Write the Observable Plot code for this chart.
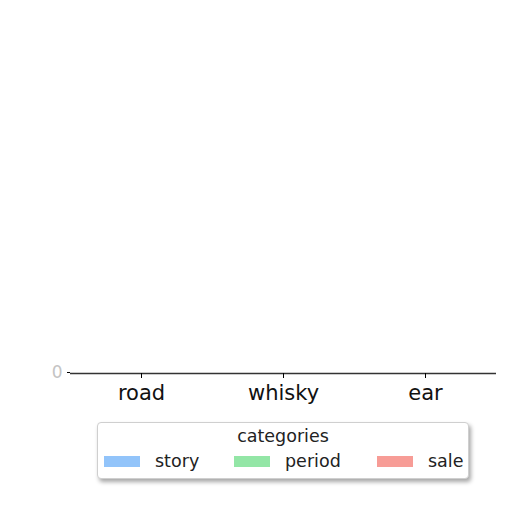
<!DOCTYPE html>
<html>
<head>
<meta charset="utf-8">
<script src="https://cdn.jsdelivr.net/npm/d3@7"></script>
<script src="https://cdn.jsdelivr.net/npm/@observablehq/plot@0.6"></script>
<style>
  body { margin: 0; background: #fff; font-family: "DejaVu Sans", sans-serif; }
  #wrap { position: relative; width: 512px; height: 512px; overflow: hidden; }
  #chart { position: absolute; left: 0; top: 0; }
  #legend {
    position: absolute; left: 97px; top: 422px; width: 372px; height: 57px;
    border: 1px solid #cfcfcf; border-radius: 4px; background: #fff;
    box-shadow: 2px 3px 4px rgba(0,0,0,0.35); box-sizing: border-box;
  }
  #legend .title { position: absolute; left: 0; right: 0; top: 3px; text-align: center; font-size: 17.5px; color: #222; }
  #legend .item { position: absolute; top: 28px; display: flex; align-items: center; font-size: 17.5px; color: #222; }
  #legend .sw { width: 36px; height: 11px; margin-right: 15px; }
</style>
</head>
<body>
<div id="wrap">
  <div id="chart"></div>
  <div id="legend"><div class="title">categories</div></div>
</div>
<script>
const categories = ["road", "whisky", "ear"];
const series = ["story", "period", "sale"];
const story = [0, 0, 0];
const period = [0, 0, 0];
const sale = [0, 0, 0];
const colors = ["#92c4fa", "#93e6a6", "#f79c96"];
const yTicks = [0];

const values = [story, period, sale];
const data = [];
categories.forEach((c, i) => series.forEach((s, j) => data.push({category: c, series: s, value: values[j][i]})));

const plot = Plot.plot({
  width: 512,
  height: 410,
  marginTop: 362,
  marginBottom: 38,
  marginLeft: 70,
  marginRight: 16,
  style: {fontFamily: "DejaVu Sans, sans-serif", background: "transparent"},
  fx: {domain: categories, padding: 0, label: null},
  x: {domain: series, axis: null, padding: 0.1},
  y: {domain: [0, 1], label: null},
  color: {domain: series, range: colors},
  marks: [
    Plot.ruleY([0], {stroke: "#333", strokeWidth: 1.5, dy: 1}),
    Plot.barY(data, {fx: "category", x: "series", y: "value", fill: "series", stroke: "series", strokeWidth: 1.2, dy: -0.5}),
    Plot.axisFx({anchor: "bottom", tickSize: 5, tickPadding: 7, fontSize: 21, label: null, fill: "#111", dy: 1}),
    Plot.axisY(yTicks, {tickSize: 3, tickPadding: 5, fontSize: 17, fill: "#c4c4c4", label: null})
  ]
});
document.getElementById("chart").appendChild(plot);

const legend = document.getElementById("legend");
const lefts = [6, 136, 279];
series.forEach((s, i) => {
  const it = document.createElement("div");
  it.className = "item";
  it.style.left = lefts[i] + "px";
  const sw = document.createElement("span");
  sw.className = "sw";
  sw.style.background = colors[i];
  const lab = document.createElement("span");
  lab.textContent = s;
  it.appendChild(sw); it.appendChild(lab);
  legend.appendChild(it);
});
</script>
</body>
</html>
